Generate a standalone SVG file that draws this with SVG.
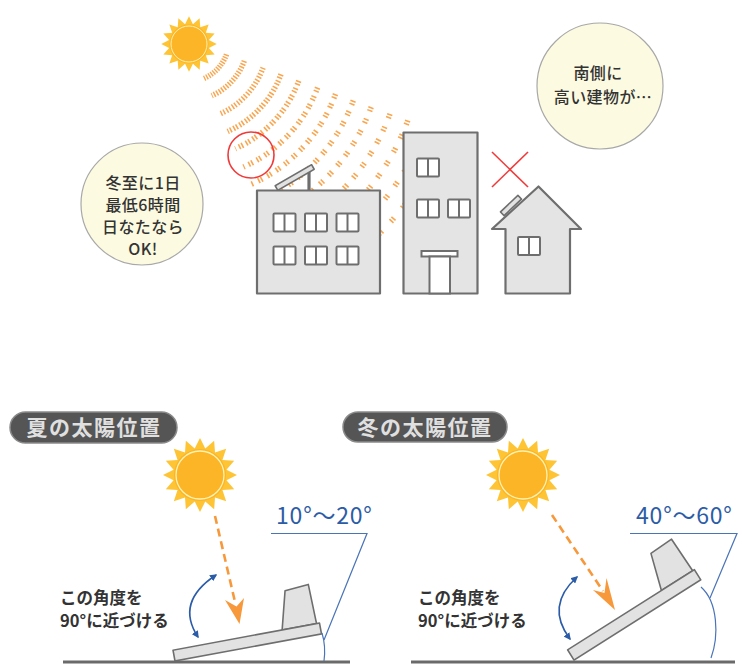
<svg xmlns="http://www.w3.org/2000/svg" xmlns:xlink="http://www.w3.org/1999/xlink" width="742" height="664" viewBox="0 0 742 664">
  <style>
    .ray { fill: none; stroke: #f9a650; stroke-width: 5.5; }
    .bld { fill: #e4e4e4; stroke: #6e6e6e; stroke-width: 2.2; stroke-linejoin: round; }
    .win { fill: #ffffff; stroke: #6e6e6e; stroke-width: 2; }
    .bubble { fill: #fcfbe1; stroke: #a8a8a8; stroke-width: 1.2; }
    .btxt { font-family: "Noto Sans CJK JP", "Noto Sans", sans-serif; font-size: 16px; fill: #333; text-anchor: middle; font-weight: 500; letter-spacing: 0.4px; }
    .pill { fill: #555555; stroke: #8a8a8a; stroke-width: 1.5; }
    .ptxt { font-family: "Noto Sans CJK JP", "Noto Sans", sans-serif; font-size: 21px; fill: #e0e0e0; text-anchor: middle; font-weight: 700; letter-spacing: 1.5px; }
    .note { font-family: "Noto Sans CJK JP", "Noto Sans", sans-serif; font-size: 16.5px; fill: #333; font-weight: 700; }
    .deg { font-family: "Noto Sans CJK JP", "Noto Sans", sans-serif; font-size: 23px; fill: #2c5ca6; letter-spacing: 0.8px; }
    .lead { fill: none; stroke: #4a74b8; stroke-width: 1.2; }
    .swing { fill: none; stroke: #2b5ca8; stroke-width: 1.6; marker-start: url(#bh); marker-end: url(#bh); }
    .beam { fill: none; stroke: #f7983a; stroke-width: 2.6; stroke-dasharray: 8 5; }
    .tip { fill: #f7983a; }
    .panel { fill: #e2e2e2; stroke: #6e6e6e; stroke-width: 1.6; stroke-linejoin: round; }
    .ground { stroke: #6a6a6a; stroke-width: 3; }
  </style>
  <defs>
    <!-- sun: spiked star, body, pale inner ring -->
    <g id="sun">
      <polygon fill="#fec434" points="37,0 26.48,5.27 34.18,14.16 22.45,15 26.16,26.16 15,22.45 14.16,34.18 5.27,26.48 0,37 -5.27,26.48 -14.16,34.18 -15,22.45 -26.16,26.16 -22.45,15 -34.18,14.16 -26.48,5.27 -37,0 -26.48,-5.27 -34.18,-14.16 -22.45,-15 -26.16,-26.16 -15,-22.45 -14.16,-34.18 -5.27,-26.48 0,-37 5.27,-26.48 14.16,-34.18 15,-22.45 26.16,-26.16 22.45,-15 34.18,-14.16 26.48,-5.27"/>
      <circle r="26" fill="#fbb526"/>
      <circle r="24" fill="none" stroke="#fff2b4" stroke-width="1.3"/>
    </g>
    <g id="win">
      <rect class="win" x="0" y="0" width="22" height="18" rx="1"/>
      <line x1="11" y1="0" x2="11" y2="18" stroke="#6e6e6e" stroke-width="2"/>
    </g>
    <marker id="bh" viewBox="0 0 10 10" refX="8" refY="5" markerWidth="4.5" markerHeight="4.5" orient="auto-start-reverse">
      <path d="M0,0 L10,5 L0,10 z" fill="#2b5ca8"/>
    </marker>
  </defs>

  <rect width="742" height="664" fill="#ffffff"/>

  <!-- ===== upper scene: sunlight reaching roofs ===== -->
  <g id="sunlight-rays">
    <path class="ray" style="stroke-dasharray:1.4 1.3" d="M226.5,54.4 A42,42 0 0 1 204.1,78.4"/>
    <path class="ray" style="stroke-dasharray:1.5 1.5" d="M244.3,60.9 A61,61 0 0 1 211.8,95.7"/>
    <path class="ray" style="stroke-dasharray:1.5 1.6 1.5 2" d="M263.1,67.7 A81,81 0 0 1 219.9,114"/>
    <path class="ray" style="stroke-dasharray:1.6 1.5 1.6 2.2" d="M281,74.2 A100,100 0 0 1 227.7,131.4"/>
    <path class="ray" style="stroke-dasharray:1.6 1.5 1.6 3.2" d="M298.8,80.7 A119,119 0 0 1 235.4,148.7"/>
    <path class="ray" style="stroke-dasharray:1.6 1.5 1.6 4.5" d="M317.6,87.5 A139,139 0 0 1 243.5,167"/>
    <path class="ray" style="stroke-dasharray:1.6 1.5 1.6 5.7" d="M335.5,94 A158,158 0 0 1 251.3,184.3"/>
    <path class="ray" style="stroke-dasharray:1.6 1.5 1.6 6.8" d="M353.3,100.5 A177,177 0 0 1 259,201.7"/>
    <path class="ray" style="stroke-dasharray:1.6 1.5 1.6 8" d="M371.2,107 A196,196 0 0 1 266.7,219.1"/>
    <path class="ray" style="stroke-dasharray:1.6 1.5 1.6 9.2" d="M390,113.9 A216,216 0 0 1 274.8,237.3"/>
    <path class="ray" style="stroke-dasharray:1.6 1.5 1.6 10.4" d="M407.8,120.4 A235,235 0 0 1 282.6,254.7"/>
    <path class="ray" style="stroke-dasharray:1.6 1.5 1.6 11.6" d="M420.8,139.2 A254,254 0 0 1 290.3,272"/>
    <path class="ray" style="stroke-dasharray:1.6 1.5 1.6 12.8" d="M432.4,159.7 A273,273 0 0 1 298,289.4"/>
  </g>

  <g id="sun-top" transform="translate(189,44) scale(0.75)">
    <use href="#sun"/>
  </g>

  <g id="mark-ok">
    <circle cx="251" cy="155" r="23" fill="none" stroke="#f03a3a" stroke-width="1.6"/>
  </g>

  <g id="building-low">
    <rect class="bld" x="257" y="190.5" width="123" height="103"/>
    <use href="#win" x="273.5" y="213.5"/>
    <use href="#win" x="305" y="213.5"/>
    <use href="#win" x="336.5" y="213.5"/>
    <use href="#win" x="273.5" y="246.5"/>
    <use href="#win" x="305" y="246.5"/>
    <use href="#win" x="336.5" y="246.5"/>
    <line x1="309" y1="168" x2="309" y2="190" stroke="#6e6e6e" stroke-width="3.2"/>
    <rect class="panel" x="0" y="-2.6" width="42" height="5.2" transform="translate(276.5,188) rotate(-30)"/>
  </g>

  <g id="building-tall">
    <rect class="bld" x="403.5" y="132.5" width="74" height="161"/>
    <use href="#win" x="417" y="158.5"/>
    <use href="#win" x="417" y="199.5"/>
    <use href="#win" x="448" y="199.5"/>
    <rect class="win" x="421.5" y="251" width="36" height="5.5"/>
    <rect class="win" x="429.5" y="256.5" width="20.5" height="37"/>
  </g>

  <g id="house">
    <polygon class="bld" points="538.5,186.5 581,229 570,229 570,293.5 505.5,293.5 505.5,229 492,229"/>
    <use href="#win" x="518" y="237"/>
    <rect class="panel" x="-12" y="-2.6" width="24" height="5.2" transform="translate(511,205.5) rotate(-43.5)"/>
  </g>

  <g id="mark-ng" stroke="#f03a3a" stroke-width="1.6">
    <line x1="492" y1="152" x2="528" y2="187"/>
    <line x1="528" y1="152" x2="492" y2="187"/>
  </g>

  <g id="bubble-left">
    <circle class="bubble" cx="142" cy="204" r="61"/>
    <text class="btxt" x="143" y="189">冬至に1日</text>
    <text class="btxt" x="143" y="211">最低6時間</text>
    <text class="btxt" x="143" y="233">日なたなら</text>
    <text class="btxt" x="143" y="255">OK!</text>
  </g>

  <g id="bubble-right">
    <circle class="bubble" cx="600" cy="86" r="63"/>
    <text class="btxt" x="598" y="79">南側に</text>
    <text class="btxt" x="603" y="103">高い建物が…</text>
  </g>

  <!-- ===== lower left: summer sun ===== -->
  <g id="label-summer">
    <rect class="pill" x="10" y="412" width="167" height="31" rx="15.5"/>
    <text class="ptxt" x="94" y="435">夏の太陽位置</text>
  </g>
  <g id="sun-summer" transform="translate(200,475)">
    <use href="#sun"/>
  </g>
  <g id="panel-summer" transform="translate(175,661) rotate(-10.5)">
    <polygon class="panel" points="111,-11 121,-49 145,-51 146,-11"/>
    <rect class="panel" x="0" y="-11" width="149" height="11"/>
  </g>
  <g id="note-summer">
    <text class="note" x="60" y="604">この角度を</text>
    <text class="note" x="60" y="627">90°に近づける</text>
    <text class="deg" x="276" y="524">10°～20°</text>
  </g>

  <!-- ===== lower right: winter sun ===== -->
  <g id="label-winter">
    <rect class="pill" x="343" y="412" width="164" height="30" rx="15"/>
    <text class="ptxt" x="425" y="435">冬の太陽位置</text>
  </g>
  <g id="sun-winter" transform="translate(523,475)">
    <use href="#sun"/>
  </g>
  <g id="panel-winter" transform="translate(574,660) rotate(-32.3)">
    <polygon class="panel" points="111,-12 122,-49 147,-50 148,-12"/>
    <rect class="panel" x="0" y="-12" width="150" height="12"/>
  </g>
  <g id="note-winter">
    <text class="note" x="418" y="604">この角度を</text>
    <text class="note" x="418" y="627">90°に近づける</text>
    <text class="deg" x="636" y="524">40°～60°</text>
  </g>

  <g id="ground">
    <line class="ground" x1="63" y1="662" x2="350" y2="662"/>
    <line class="ground" x1="411" y1="662" x2="735" y2="662"/>
  </g>

  <!-- beams, angle swings and leader lines -->
  <g id="connectors">
    <line class="beam" x1="215" y1="516" x2="235.5" y2="604"/>
    <polygon class="tip" points="225,600 236.5,606.5 244,598 239.5,624"/>
    <line class="beam" x1="552" y1="515" x2="603" y2="591"/>
    <polygon class="tip" points="593,590 604.5,593 606.5,578 615,610"/>

    <path class="swing" d="M216,575 Q175,602 198,637"/>
    <path class="swing" d="M577,577 Q545,606 570,639"/>

    <path class="lead" d="M271,533.5 H367 L324,640"/>
    <path class="lead" d="M322,633 Q326,646 324,661"/>
    <path class="lead" d="M630,533.5 H737 L710,598"/>
    <path class="lead" d="M701,587 C718,602 719,636 711,658"/>
  </g>
</svg>
